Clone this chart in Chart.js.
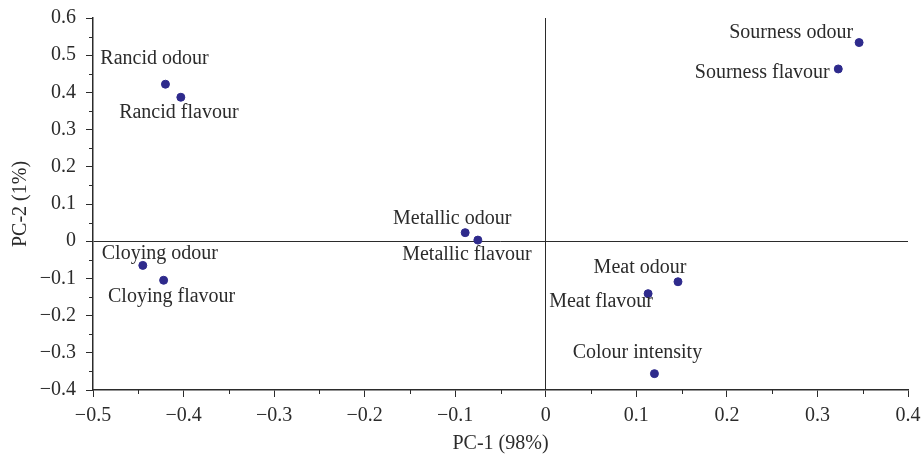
<!DOCTYPE html>
<html>
<head>
<meta charset="utf-8">
<script src="https://cdn.jsdelivr.net/npm/chart.js@4"></script>
<style>
  html, body { margin: 0; padding: 0; background: #fff; }
  #wrap { width: 922px; height: 457px; }
</style>
</head>
<body>
<div id="wrap"><canvas id="chart"></canvas></div>
<script>
// PCA loadings
const attributes = ["Sourness odour", "Sourness flavour", "Rancid odour", "Rancid flavour",
  "Metallic odour", "Metallic flavour", "Cloying odour", "Cloying flavour",
  "Meat odour", "Meat flavour", "Colour intensity"];
const pc1 = [0.346, 0.323, -0.420, -0.403, -0.089, -0.075, -0.445, -0.422, 0.146, 0.113, 0.120];
const pc2 = [0.534, 0.463, 0.422, 0.387, 0.023, 0.003, -0.065, -0.105, -0.109, -0.141, -0.356];

const xTickLabels = ["\u22120.5", "\u22120.4", "\u22120.3", "\u22120.2", "\u22120.1", "0", "0.1", "0.2", "0.3", "0.4"];
const yTickLabels = ["\u22120.4", "\u22120.3", "\u22120.2", "\u22120.1", "0", "0.1", "0.2", "0.3", "0.4", "0.5", "0.6"];

// where each name sits relative to its dot (px)
const labelOffsets = [[-68, -10], [-76, 4], [-11, -25], [-2, 16], [-13, -14], [-11, 15],
  [17, -12], [8, 16], [-38, -14], [-47, 8], [-17, -21]];

const FONT = '"Liberation Serif", "Times New Roman", serif';
const INK = "#2b2b2b";

// point names
const pointLabels = {
  id: "pointLabels",
  afterDatasetsDraw(chart) {
    const ctx = chart.ctx;
    const meta = chart.getDatasetMeta(0);
    ctx.save();
    ctx.font = "20px " + FONT;
    ctx.fillStyle = INK;
    ctx.textAlign = "center";
    ctx.textBaseline = "middle";
    meta.data.forEach((pt, i) => {
      ctx.fillText(attributes[i], pt.x + labelOffsets[i][0], pt.y + labelOffsets[i][1]);
    });
    ctx.restore();
  }
};

// short ticks halfway between the labelled ones
const minorTicks = {
  id: "minorTicks",
  afterDraw(chart) {
    const ctx = chart.ctx;
    const xs = chart.scales.x, ys = chart.scales.y;
    ctx.save();
    ctx.strokeStyle = INK;
    ctx.lineWidth = 1;
    ctx.beginPath();
    for (let v = -0.45; v < 0.4; v += 0.1) {
      const px = Math.round(xs.getPixelForValue(v)) + 0.5;
      ctx.moveTo(px, xs.top);
      ctx.lineTo(px, xs.top + 4);
    }
    for (let v = -0.35; v < 0.6; v += 0.1) {
      const py = Math.round(ys.getPixelForValue(v)) + 0.5;
      ctx.moveTo(ys.right, py);
      ctx.lineTo(ys.right - 4, py);
    }
    ctx.stroke();
    ctx.restore();
  }
};

const zeroLine = c => (Math.abs(c.tick.value) < 1e-9 ? INK : "rgba(0,0,0,0)");

new Chart(document.getElementById("chart"), {
  type: "scatter",
  data: {
    datasets: [{
      data: attributes.map((a, i) => ({ x: pc1[i], y: pc2[i] })),
      backgroundColor: "#2e2a8c",
      borderColor: "#2e2a8c",
      pointRadius: 4,
      pointHoverRadius: 4
    }]
  },
  options: {
    responsive: true,
    maintainAspectRatio: false,
    animation: false,
    layout: { padding: { top: 18, right: 14, left: 9, bottom: 0 } },
    plugins: { legend: { display: false }, tooltip: { enabled: false } },
    scales: {
      x: {
        type: "linear",
        min: -0.5,
        max: 0.4,
        afterFit: s => { s.height = 67; s.paddingLeft = 0; s.paddingRight = 0; },
        ticks: {
          stepSize: 0.1,
          padding: 7,
          color: INK,
          font: { family: FONT, size: 20 },
          callback: (v, i) => xTickLabels[i]
        },
        grid: { color: zeroLine, tickColor: INK, tickLength: 7, lineWidth: 1 },
        border: { display: true, color: INK, width: 1.5 },
        title: {
          display: true,
          text: "PC-1 (98%)",
          color: INK,
          font: { family: FONT, size: 20 },
          padding: { top: 2, bottom: 1 }
        }
      },
      y: {
        type: "linear",
        min: -0.4,
        max: 0.6,
        afterFit: s => { s.width = 84; s.paddingTop = 0; s.paddingBottom = 0; },
        ticks: {
          stepSize: 0.1,
          padding: 10,
          color: INK,
          font: { family: FONT, size: 20 },
          callback: (v, i) => yTickLabels[i]
        },
        grid: { color: zeroLine, tickColor: INK, tickLength: 7, lineWidth: 1 },
        border: { display: true, color: INK, width: 1.5 },
        title: {
          display: true,
          text: "PC-2 (1%)",
          color: INK,
          font: { family: FONT, size: 20 },
          padding: { top: 0, bottom: 0 }
        }
      }
    }
  },
  plugins: [pointLabels, minorTicks]
});
</script>
</body>
</html>
